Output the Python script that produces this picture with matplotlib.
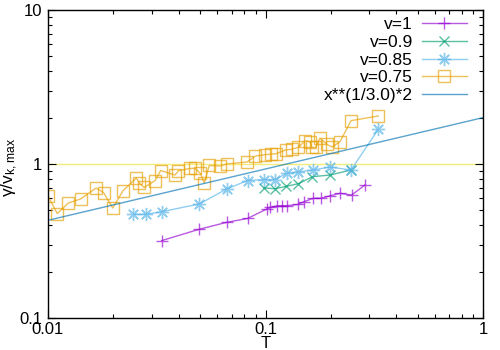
import matplotlib
matplotlib.use("Agg")
import matplotlib.pyplot as plt
import numpy as np

plt.rcParams['font.family'] = ['Liberation Sans', 'DejaVu Sans']
plt.rcParams['mathtext.default'] = 'regular'

# v=1
t_v1 = [0.0333, 0.0496, 0.0663, 0.0827, 0.1013, 0.105, 0.1126, 0.1187, 0.126,
        0.1415, 0.1503, 0.1659, 0.1794, 0.198, 0.22, 0.249, 0.2868]
g_v1 = [0.318, 0.377, 0.418, 0.443, 0.510, 0.523, 0.534, 0.536, 0.536,
        0.547, 0.569, 0.599, 0.599, 0.622, 0.645, 0.629, 0.731]

# v=0.9
t_v09 = [0.0984, 0.1106, 0.1246, 0.1415, 0.1644, 0.198, 0.2472]
g_v09 = [0.699, 0.691, 0.716, 0.745, 0.827, 0.848, 0.914]

# v=0.85
t_v085 = [0.0247, 0.0282, 0.0333, 0.0496, 0.0663, 0.0827, 0.0984, 0.1106,
          0.1252, 0.1415, 0.1653, 0.198, 0.2472, 0.330]
g_v085 = [0.471, 0.471, 0.490, 0.550, 0.688, 0.781, 0.793, 0.793,
          0.870, 0.887, 0.914, 0.956, 0.914, 1.68]

# v=0.75
t_v075 = [0.0100, 0.01103, 0.01240, 0.01413, 0.01663, 0.01800, 0.01984, 0.02212,
          0.02547, 0.02629, 0.02763, 0.03104, 0.03297, 0.03836, 0.03981, 0.04497,
          0.04742, 0.05025, 0.05226, 0.05516, 0.06210, 0.06618, 0.08223, 0.08995,
          0.09948, 0.1060, 0.1118, 0.1236, 0.1320, 0.1415, 0.1527, 0.1602,
          0.1636, 0.1698, 0.1781, 0.1918, 0.2022, 0.2200, 0.2473, 0.3301]
g_v075 = [0.620, 0.477, 0.558, 0.593, 0.698, 0.653, 0.518, 0.671,
          0.811, 0.753, 0.704, 0.779, 0.907, 0.848, 0.905, 0.935,
          0.938, 0.868, 0.753, 0.978, 0.971, 1.0, 1.03, 1.127,
          1.149, 1.161, 1.166, 1.233, 1.246, 1.283, 1.421, 1.390,
          1.280, 1.280, 1.475, 1.339, 1.290, 1.396, 1.911, 2.05]

fig = plt.figure(figsize=(5, 3.5), dpi=100)
ax = fig.add_axes([48 / 500, 32 / 350, 435 / 500, 308 / 350])

# reference lines
ax.axhline(1, color='#f0e442', lw=1, alpha=0.7, zorder=1)
xf = np.logspace(-2, 0, 200)

ax.plot(t_v1, g_v1, color='#9400d3', marker='+', ms=8, mew=1, lw=1, alpha=0.65, label='v=1')
ax.plot(t_v09, g_v09, color='#009e73', marker='x', ms=7.5, mew=1, lw=1, alpha=0.65, label='v=0.9')
ax.plot(t_v085, g_v085, color='#56b4e9', marker=(8, 2, 0), ms=9.5, mew=1, lw=1, alpha=0.65, label='v=0.85')
ax.plot(t_v075, g_v075, color='#e69f00', marker='s', ms=8, mfc='none', mew=1, lw=1, alpha=0.65,
        label='v=0.75')
ax.plot(xf, xf ** (1 / 3.0) * 2, color='#0072b2', lw=1, alpha=0.65, label='x**(1/3.0)*2')

ax.set_xscale('log')
ax.set_yscale('log')
ax.set_xlim(0.01, 1)
ax.set_ylim(0.1, 10)
ax.set_xticks([0.01, 0.1, 1])
ax.set_xticklabels(['0.01', '0.1', '1'])
ax.set_yticks([0.1, 1, 10])
ax.set_yticklabels(['0.1', '1', '10'])
ax.tick_params(which='both', direction='in', top=True, right=True, labelsize=12, width=0.8)
ax.tick_params(axis='x', pad=3)
ax.tick_params(axis='y', pad=4)
ax.tick_params(which='major', length=6)
ax.tick_params(which='minor', length=3)
ax.minorticks_on()
for s in ax.spines.values():
    s.set_linewidth(1)

ax.set_xlabel('T', fontsize=12)
ax.xaxis.set_label_coords(0.5, -0.058)
ax.set_ylabel('γ/v$_{k,max}$', fontsize=12.5)
ax.yaxis.set_label_coords(-0.064, 0.49)

ax.legend(loc='upper right', bbox_to_anchor=(467 / 500, 333 / 350), bbox_transform=fig.transFigure,
          frameon=False, markerfirst=False, fontsize=12.5, borderpad=0, borderaxespad=0,
          labelspacing=0.15, handletextpad=0.5, handlelength=2.6, numpoints=1)

fig.savefig('out.png', dpi=100)
